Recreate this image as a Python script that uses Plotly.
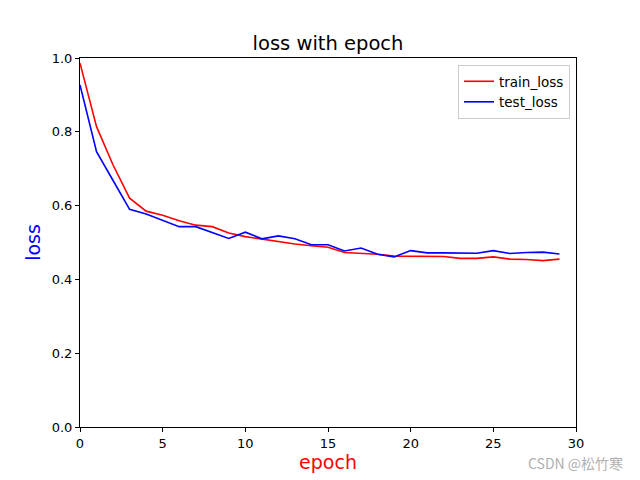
import plotly.graph_objects as go

epochs = list(range(30))
train_loss = [0.986, 0.814, 0.71, 0.62, 0.585, 0.574, 0.559, 0.547, 0.543, 0.526,
              0.516, 0.509, 0.504, 0.496, 0.491, 0.487, 0.473, 0.471, 0.468, 0.463,
              0.462, 0.463, 0.462, 0.457, 0.457, 0.461, 0.455, 0.454, 0.451, 0.455]
test_loss = [0.927, 0.746, 0.668, 0.590, 0.577, 0.559, 0.543, 0.543, 0.527, 0.511,
             0.528, 0.510, 0.518, 0.510, 0.494, 0.494, 0.477, 0.485, 0.468, 0.461,
             0.478, 0.472, 0.472, 0.471, 0.471, 0.478, 0.470, 0.473, 0.474, 0.469]
x_ticks = [0, 5, 10, 15, 20, 25, 30]
y_ticks = [0.0, 0.2, 0.4, 0.6, 0.8, 1.0]

font = "DejaVu Sans"
fig = go.Figure()
fig.add_trace(go.Scatter(x=epochs, y=train_loss, mode="lines", name="train_loss",
                         line=dict(color="red", width=1.6)))
fig.add_trace(go.Scatter(x=epochs, y=test_loss, mode="lines", name="test_loss",
                         line=dict(color="blue", width=1.6)))

axis_common = dict(showgrid=False, zeroline=False, showline=True, linecolor="black",
                   linewidth=1, mirror=True, ticks="outside", ticklen=4, tickwidth=1,
                   tickcolor="black", tickfont=dict(family=font, size=13, color="black"))
fig.update_layout(
    width=640, height=480,
    margin=dict(l=72, r=72, t=50, b=61),
    paper_bgcolor="white", plot_bgcolor="white",
    title=dict(text="loss with epoch", x=0.5, xanchor="center", xref="paper",
               y=1 - 35 / 480, yanchor="middle",
               font=dict(family=font, size=19.5, color="black")),
    xaxis=dict(range=[0, 30], tickvals=x_ticks, ticktext=[str(v) for v in x_ticks],
               title=dict(text="epoch", font=dict(family=font, size=19, color="red"), standoff=5),
               **axis_common),
    yaxis=dict(range=[0, 1], tickvals=y_ticks, ticktext=[f"{v:.1f}" for v in y_ticks],
               title=dict(text="loss", font=dict(family=font, size=19, color="blue"), standoff=6),
               **axis_common),
    legend=dict(x=1 - 6 / 496, y=1 - 7 / 369, xanchor="right", yanchor="top",
                bgcolor="rgba(255,255,255,0.8)", bordercolor="#cccccc", borderwidth=1,
                tracegroupgap=0,
                font=dict(family=font, size=13.5, color="black")),
    showlegend=True,
)
fig.add_annotation(text="CSDN @松竹寒", xref="paper", yref="paper", x=1.099, y=-0.0976,
                   xanchor="right", yanchor="middle", showarrow=False,
                   font=dict(family="Noto Sans CJK SC", size=14, color="#b0b0b0"))
fig.write_html("out.html")
